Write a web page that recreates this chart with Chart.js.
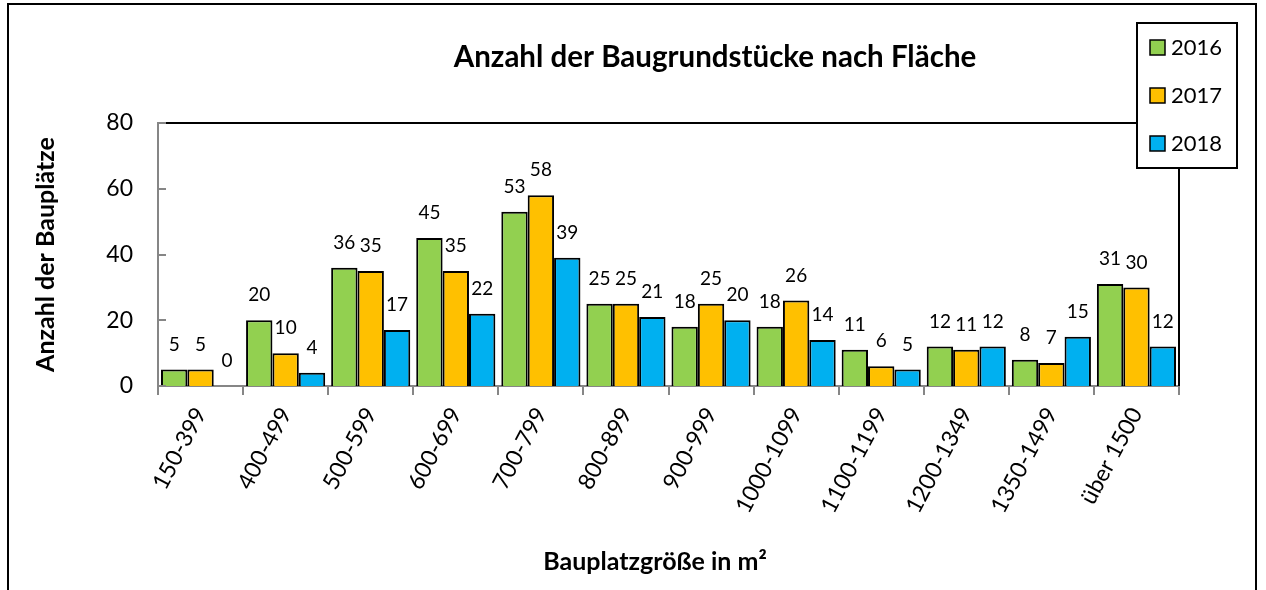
<!DOCTYPE html>
<html>
<head>
<meta charset="utf-8">
<script src="https://cdn.jsdelivr.net/npm/chart.js@4"></script>
<style>
html,body{margin:0;padding:0;background:#fff;}
#wrap{width:1266px;height:590px;position:relative;}
</style>
</head>
<body>
<div id="wrap"><canvas id="c" width="1266" height="590"></canvas></div>
<script>
const categories = ["150-399","400-499","500-599","600-699","700-799","800-899","900-999","1000-1099","1100-1199","1200-1349","1350-1499","über 1500"];
const seriesNames = ["2016","2017","2018"];
const values2016 = [5,20,36,45,53,25,18,18,11,12,8,31];
const values2017 = [5,10,35,35,58,25,25,26,6,11,7,30];
const values2018 = [0,4,17,22,39,21,20,14,5,12,15,12];
const yTicks = [0,20,40,60,80];
const chartTitle = "Anzahl der Baugrundstücke nach Fläche";
const xTitle = "Bauplatzgröße in m²";
const yTitle = "Anzahl der Bauplätze";
const colors = ["#92D050","#FFC000","#00B0F0"];

const FONT = "Lato, 'Open Sans', sans-serif";

const decor = {
  id: 'decor',
  beforeDraw(chart){
    const ctx = chart.ctx;
    ctx.save();
    ctx.fillStyle = '#fff';
    ctx.fillRect(0,0,chart.width,chart.height);
    ctx.restore();
  },
  afterDatasetsDraw(chart){
    const ctx = chart.ctx;
    const a = chart.chartArea;
    const ys = chart.scales.y;
    ctx.save();
    ctx.strokeStyle = '#000';
    ctx.lineWidth = 2;
    ctx.beginPath();
    ctx.moveTo(a.left, a.top);
    ctx.lineTo(a.right, a.top);
    ctx.lineTo(a.right, a.bottom);
    ctx.stroke();
    ctx.strokeStyle = '#868686';
    ctx.lineWidth = 2;
    yTicks.forEach(v=>{
      const y = Math.round(ys.getPixelForValue(v));
      ctx.beginPath();
      ctx.moveTo(a.left, y);
      ctx.lineTo(a.left+8, y);
      ctx.stroke();
    });
    ctx.fillStyle = '#000';
    ctx.font = '19px ' + FONT;
    ctx.textAlign = 'center';
    ctx.textBaseline = 'middle';
    chart.data.datasets.forEach((ds,i)=>{
      const meta = chart.getDatasetMeta(i);
      meta.data.forEach((el,j)=>{
        ctx.fillText(String(ds.data[j]), el.x, el.y - 25);
      });
    });
    ctx.restore();
  },
  afterDraw(chart){
    const ctx = chart.ctx;
    const a = chart.chartArea;
    ctx.save();
    ctx.strokeStyle = '#000';
    ctx.lineWidth = 2;
    ctx.strokeRect(8, 4, 1248, 600);
    ctx.fillStyle = '#000';
    ctx.textAlign = 'center';
    ctx.textBaseline = 'middle';
    ctx.font = 'bold 29.5px ' + FONT;
    ctx.fillText(chartTitle, 715, 57);
    ctx.font = 'bold 25px ' + FONT;
    ctx.fillText(xTitle, 655, 562);
    ctx.save();
    ctx.translate(46, (a.top + a.bottom)/2);
    ctx.rotate(-Math.PI/2);
    ctx.fillText(yTitle, 0, 0);
    ctx.restore();
    const lx = 1137, ly = 23, lw = 100, lh = 145;
    ctx.fillStyle = '#fff';
    ctx.fillRect(lx, ly, lw, lh);
    ctx.strokeStyle = '#000';
    ctx.lineWidth = 2;
    ctx.strokeRect(lx, ly, lw, lh);
    ctx.font = '22px ' + FONT;
    ctx.textAlign = 'left';
    chart.data.datasets.forEach((ds,i)=>{
      const cy = 47 + i*48;
      ctx.fillStyle = ds.backgroundColor;
      ctx.fillRect(1150, cy-7, 15, 15);
      ctx.lineWidth = 1.5;
      ctx.strokeStyle = '#000';
      ctx.strokeRect(1150, cy-7, 15, 15);
      ctx.fillStyle = '#000';
      ctx.fillText(ds.label, 1171, cy+1);
    });
    ctx.restore();
  }
};

new Chart(document.getElementById('c'), {
  type: 'bar',
  data: {
    labels: categories,
    datasets: [
      {label: seriesNames[0], data: values2016, backgroundColor: colors[0]},
      {label: seriesNames[1], data: values2017, backgroundColor: colors[1]},
      {label: seriesNames[2], data: values2018, backgroundColor: colors[2]}
    ].map(d=>Object.assign(d,{borderColor:'#000', borderWidth:2, categoryPercentage:0.93, barPercentage:1.0}))
  },
  options: {
    responsive: false,
    animation: false,
    devicePixelRatio: 1,
    layout: {padding: {left: 0, right: 87, top: 123, bottom: 0}},
    plugins: {legend: {display: false}, title: {display: false}, tooltip: {enabled: false}},
    scales: {
      x: {
        afterFit(s){ s.height = 204; },
        grid: {drawOnChartArea: false, drawTicks: true, tickLength: 9, color: '#868686', lineWidth: 2, offset: true},
        border: {color: '#868686', width: 2},
        ticks: {autoSkip: false, maxRotation: 62, minRotation: 62, color: '#000', font: {family: FONT, size: 23}, padding: 8}
      },
      y: {
        min: 0, max: 80,
        afterFit(s){ s.width = 158; },
        afterBuildTicks(s){ s.ticks = yTicks.map(v=>({value:v})); },
        grid: {display: false, drawTicks: false},
        border: {color: '#868686', width: 2},
        ticks: {color: '#000', font: {family: FONT, size: 23}, padding: 25}
      }
    }
  },
  plugins: [decor]
});
</script>
</body>
</html>
